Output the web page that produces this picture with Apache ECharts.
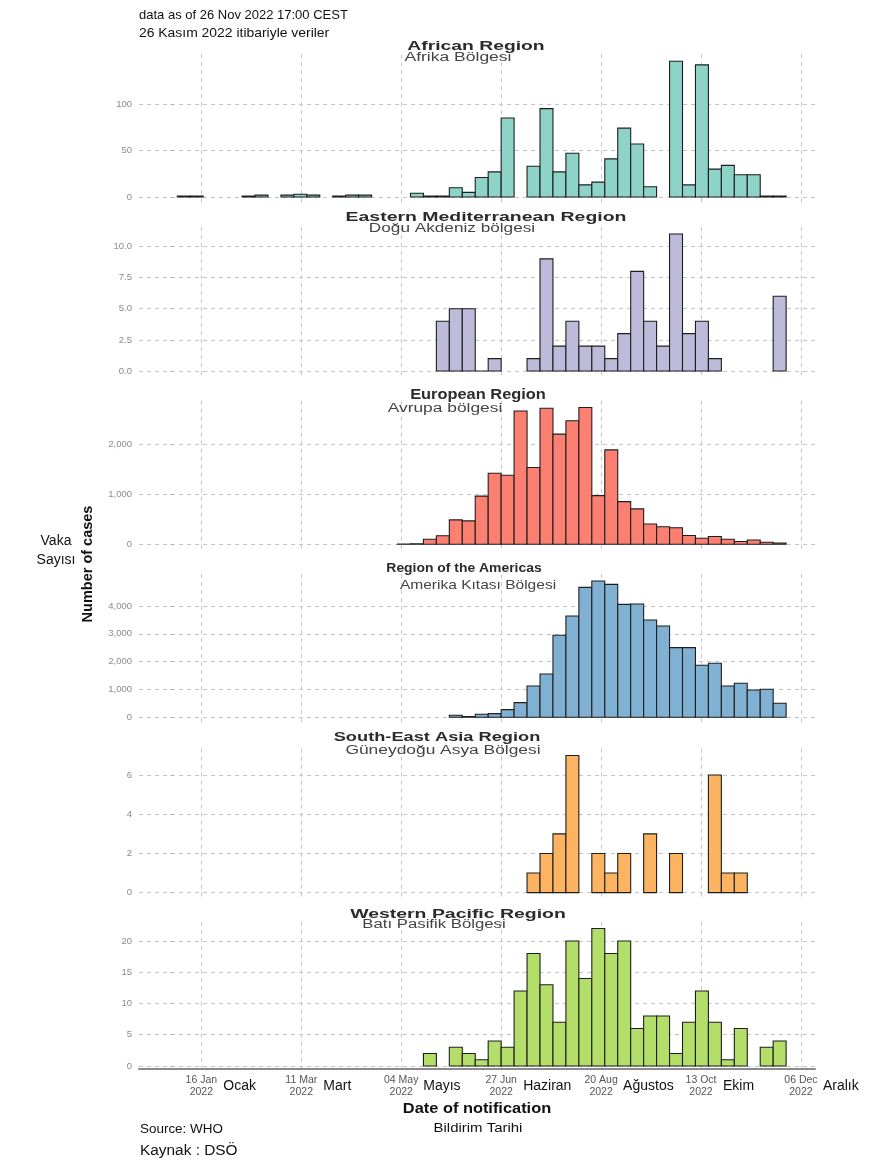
<!DOCTYPE html>
<html><head><meta charset="utf-8">
<script src="https://cdn.jsdelivr.net/npm/echarts@6/dist/echarts.min.js"></script>
<style>html,body{margin:0;padding:0;background:#fff}#c{width:878px;height:1170px}</style>
</head><body><div id="c"></div>
<script>
// Weekly bins (Monday start dates)
const weekStarts = ['2022-01-03','2022-01-10','2022-01-17','2022-01-24','2022-01-31',
 '2022-02-07','2022-02-14','2022-02-21','2022-02-28',
 '2022-03-07','2022-03-14','2022-03-21','2022-03-28',
 '2022-04-04','2022-04-11','2022-04-18','2022-04-25',
 '2022-05-02','2022-05-09','2022-05-16','2022-05-23','2022-05-30',
 '2022-06-06','2022-06-13','2022-06-20','2022-06-27',
 '2022-07-04','2022-07-11','2022-07-18','2022-07-25',
 '2022-08-01','2022-08-08','2022-08-15','2022-08-22','2022-08-29',
 '2022-09-05','2022-09-12','2022-09-19','2022-09-26',
 '2022-10-03','2022-10-10','2022-10-17','2022-10-24','2022-10-31',
 '2022-11-07','2022-11-14','2022-11-21'];

const african = [1,1,null,null,null,1,2,null,2,3,2,null,1,2,2,null,null,null,4,1,1,10,5,21,27,85,null,33,95,27,47,13,16,41,74,57,11,null,146,13,142,30,34,24,24,1,1];
const easternMed = [null,null,null,null,null,null,null,null,null,null,null,null,null,null,null,null,null,null,null,null,4,5,5,0,1,null,null,1,9,2,4,2,2,1,3,8,4,2,11,3,4,1,null,null,null,null,6];
const european = [null,null,null,null,null,null,null,null,null,null,null,null,null,null,null,null,null,3,8,100,170,485,465,960,1415,1375,2655,1530,2710,2195,2460,2725,970,1880,850,705,405,350,330,175,120,155,100,55,85,40,25];
const americas = [null,null,null,null,null,null,null,null,null,null,null,null,null,null,null,null,null,null,null,null,null,72,30,108,132,275,527,1126,1557,2946,3641,4671,4898,4778,4060,4072,3497,3281,2503,2503,1868,1940,1126,1222,982,1006,503];
const seAsia = [null,null,null,null,null,null,null,null,null,null,null,null,null,null,null,null,null,null,null,null,null,null,null,null,null,null,null,1,2,3,7,null,2,1,2,null,3,null,2,null,null,6,1,1,null,null,null];
const westPacific = [null,null,null,null,null,null,null,null,null,null,null,null,null,null,null,null,null,null,null,2,null,3,2,1,4,3,12,18,13,7,20,14,22,18,20,6,8,8,2,7,12,7,1,6,null,3,4];

const regionTitles = ['African Region','Eastern Mediterranean Region','European Region','Region of the Americas','South-East Asia Region','Western Pacific Region'];
const regionSubtitles = ['Afrika Bölgesi','Doğu Akdeniz bölgesi','Avrupa bölgesi','Amerika Kıtası Bölgesi','Güneydoğu Asya Bölgesi','Batı Pasifik Bölgesi'];

const yTicks = [[0,50,100],[0,2.5,5,7.5,10],[0,1000,2000],[0,1000,2000,3000,4000],[0,2,4,6],[0,5,10,15,20]];
const yTickLabels = [['0','50','100'],['0.0','2.5','5.0','7.5','10.0'],['0','1,000','2,000'],['0','1,000','2,000','3,000','4,000'],['0','2','4','6'],['0','5','10','15','20']];

const xTickDates = ['2022-01-16','2022-03-11','2022-05-04','2022-06-27','2022-08-20','2022-10-13','2022-12-06'];
const xTickLabels = ['16 Jan\n2022','11 Mar\n2022','04 May\n2022','27 Jun\n2022','20 Aug\n2022','13 Oct\n2022','06 Dec\n2022'];
const monthLabels = ['Ocak','Mart','Mayıs','Haziran','Ağustos','Ekim','Aralık'];

const seriesValues = [african, easternMed, european, americas, seAsia, westPacific];
const colors = ['#8DD3C7','#BEBADA','#FB8072','#80B1D3','#FDB462','#B3DE69'];

// layout per panel
const panels = [
  {top:54.4, height:149.4, min:-7.3, max:153.3, tx:476, ty:46, tsx:1.43, sx:458, sy:58, ssx:1.4, tsz:13.5},
  {top:227.1, height:150.8, min:-0.55, max:11.55, tx:486, ty:217, tsx:1.44, sx:452, sy:229, ssx:1.375, tsz:13.5},
  {top:400.7, height:150.4, min:-136.2, max:2860.2, tx:478, ty:395, tsx:1.13, sx:445, sy:409, ssx:1.39, tsz:14.5},
  {top:574.2, height:149.9, min:-244.9, max:5142.9, tx:464, ty:568, tsx:1.03, sx:478, sy:585, ssx:1.15, tsz:13.5, ssz:13.5},
  {top:748.6, height:150.9, min:-0.35, max:7.35, tx:437, ty:737, tsx:1.35, sx:443, sy:751, ssx:1.39, tsz:13.5},
  {top:921.6, height:147.2, min:-0.45, max:23.1, tx:458, ty:914, tsx:1.44, sx:434, sy:925, ssx:1.34, tsz:13.5}
];

function dayOf(s){const p=s.split('-').map(Number);return (Date.UTC(p[0],p[1]-1,p[2])-Date.UTC(2022,0,1))/864e5;}
const xTickDays = xTickDates.map(dayOf);
const XMIN = -18.7, XMAX = 346.6;
const FONT = '"Liberation Sans", Arial, Helvetica, sans-serif';

const grids=[], xAxes=[], yAxes=[], series=[], graphics=[];
const dash = {color:'#c6c6c6', width:1, type:[4,4]};

panels.forEach((p,i)=>{
  grids.push({left:139, right:63, top:p.top, height:p.height, outerBoundsMode:'none', containLabel:false});
  const isLast = i===panels.length-1;
  xAxes.push({type:'value', gridIndex:i, min:XMIN, max:XMAX,
    axisLine:{show:isLast, onZero:false, lineStyle:{color:'#8a8a8a', width:2}},
    axisTick:{show:false, customValues:xTickDays},
    axisLabel:{show:isLast, customValues:xTickDays, interval:0,
      formatter:v=>{const k=xTickDays.indexOf(v);return k>=0?xTickLabels[k]:'';},
      fontSize:10.5, lineHeight:12, color:'#555', fontFamily:FONT, margin:5},
    splitLine:{show:true, lineStyle:dash}});
  yAxes.push({type:'value', gridIndex:i, min:p.min, max:p.max,
    axisLine:{show:false},
    axisTick:{show:true, length:3, customValues:yTicks[i], lineStyle:{color:'#aaa'}},
    axisLabel:{customValues:yTicks[i], formatter:v=>{const k=yTicks[i].indexOf(v);return k>=0?yTickLabels[i][k]:'';},
      fontSize:9.5, color:'#8a8a8a', fontFamily:FONT, margin:7},
    splitLine:{show:true, lineStyle:dash}});
  const vals = seriesValues[i];
  const data = [];
  weekStarts.forEach((w,k)=>{ if(vals[k]!==null){ const d=dayOf(w); data.push([d, d+7, vals[k]]); } });
  const col = colors[i];
  series.push({type:'custom', xAxisIndex:i, yAxisIndex:i, clip:true,
    encode:{x:[0,1], y:2},
    renderItem:(params, api)=>{
      const a=api.coord([api.value(0),0]), b=api.coord([api.value(1),api.value(2)]);
      return {type:'rect', shape:{x:a[0], y:b[1], width:b[0]-a[0], height:a[1]-b[1]},
        style:{fill:col, stroke:'#1e1e1e', lineWidth:1.1}};
    }, data:data});
  graphics.push({type:'text', x:p.tx, y:p.ty, scaleX:p.tsx, style:{text:regionTitles[i], fontSize:p.tsz, fontWeight:'bold', fill:'#2b2b2b', align:'center', verticalAlign:'middle', fontFamily:FONT}, z:10});
  graphics.push({type:'text', x:p.sx, y:p.sy, scaleX:p.ssx, style:{text:regionSubtitles[i], fontSize:p.ssz||12.5, fill:'#444', align:'center', verticalAlign:'middle', fontFamily:FONT}, z:10});
});

// month names axis on the bottom panel
xAxes.push({type:'value', gridIndex:5, min:XMIN, max:XMAX, position:'bottom',
  axisLine:{show:false}, axisTick:{show:false, customValues:xTickDays}, splitLine:{show:false},
  axisLabel:{customValues:xTickDays, interval:0, align:'left', padding:[0,0,0,22],
    formatter:v=>{const k=xTickDays.indexOf(v);return k>=0?monthLabels[k]:'';},
    fontSize:14, color:'#111', fontFamily:FONT, margin:10}});

const txt=(t,x,y,o,sx)=>({type:'text', x:x, y:y, z:10, scaleX:sx||1, style:Object.assign({text:t, fontFamily:FONT, fill:'#111', fontSize:13, verticalAlign:'middle', align:'left'}, o||{})});
graphics.push(txt('data as of 26 Nov 2022 17:00 CEST',139,15,{fontSize:13}));
graphics.push(txt('26 Kasım 2022 itibariyle veriler',139,33,{fontSize:13},1.07));
graphics.push(txt('Date of notification',477,1109,{fontSize:14, fontWeight:'bold', align:'center'},1.17));
graphics.push(txt('Bildirim Tarihi',478,1128,{fontSize:13, align:'center'},1.15));
graphics.push(txt('Source: WHO',140,1130,{fontSize:12},1.12));
graphics.push(txt('Kaynak : DSÖ',140,1151,{fontSize:14},1.1));
graphics.push(txt('Vaka\nSayısı',56,551,{fontSize:14, align:'center', lineHeight:19}));
graphics.push({type:'text', x:88, y:564, rotation:Math.PI/2, z:10,
  style:{text:'Number of cases', fontFamily:FONT, fontSize:14.5, fontWeight:'bold', fill:'#111', align:'center', verticalAlign:'middle'}});

const chart = echarts.init(document.getElementById('c'), null, {renderer:'canvas'});
chart.setOption({animation:false, backgroundColor:'#fff', grid:grids, xAxis:xAxes, yAxis:yAxes, series:series, graphic:graphics});
</script></body></html>
